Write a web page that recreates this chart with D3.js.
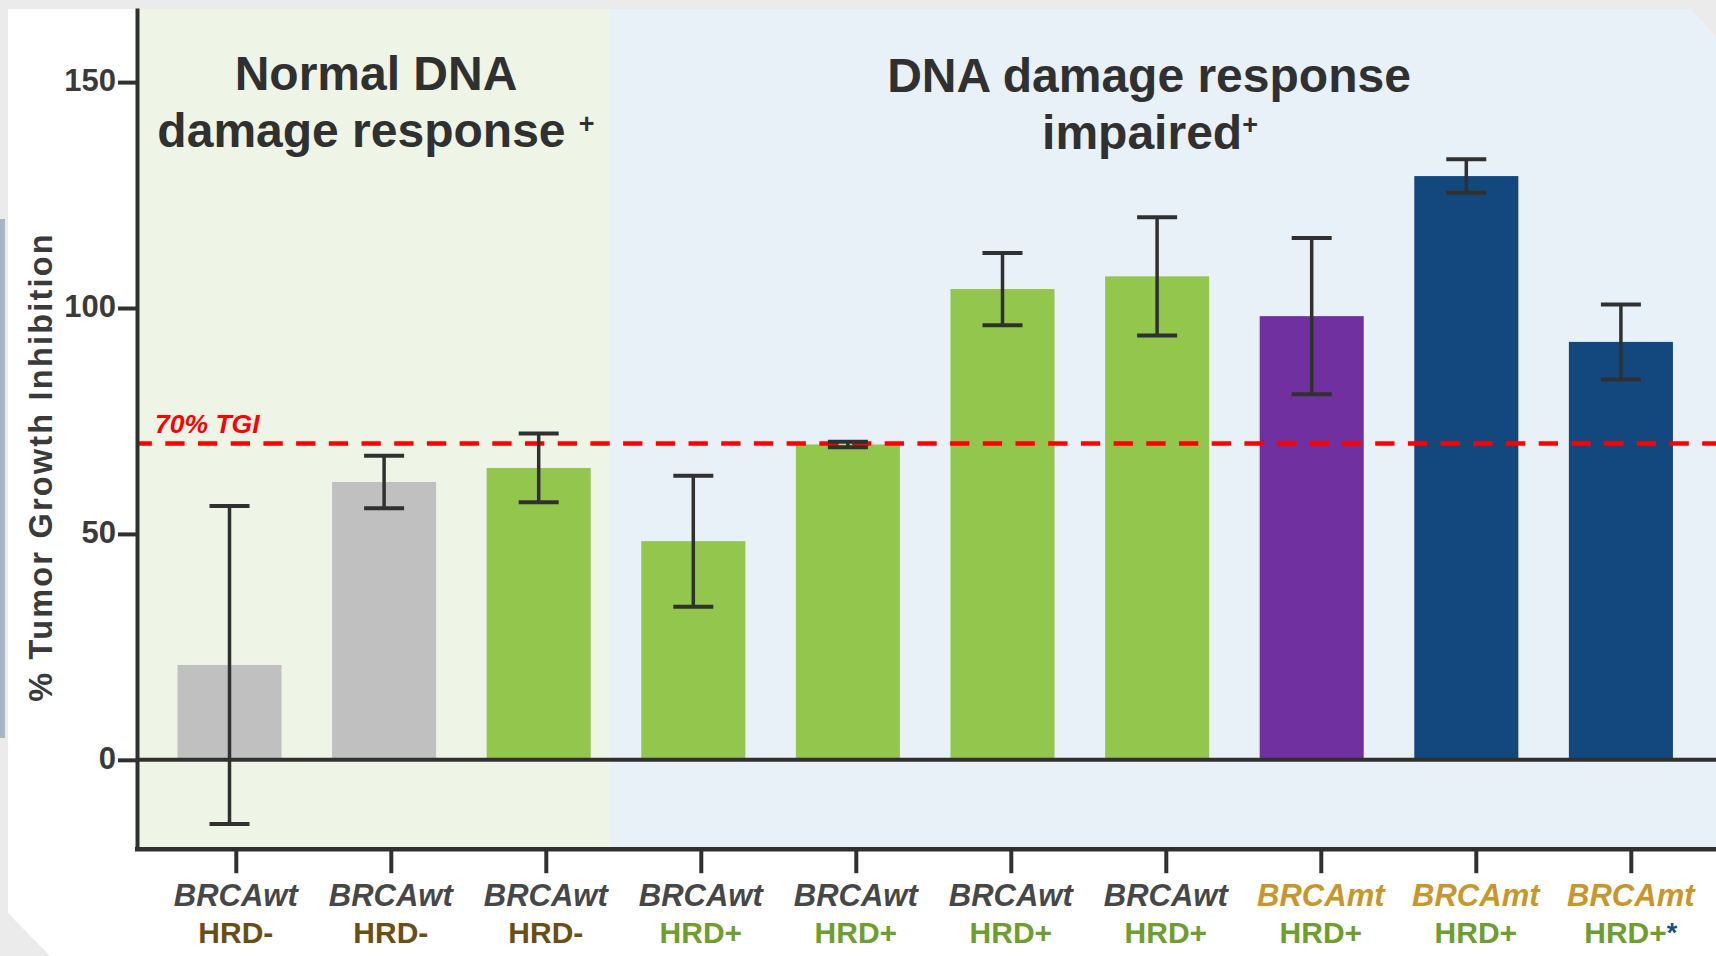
<!DOCTYPE html>
<html>
<head>
<meta charset="utf-8">
<script src="https://cdn.jsdelivr.net/npm/d3@7"></script>
<style>
  html, body { margin: 0; padding: 0; background: #ebebeb; }
  svg { display: block; }
  text { font-family: "Liberation Sans", Arial, Helvetica, sans-serif; }
</style>
</head>
<body>
<svg id="chart" width="1716" height="956"></svg>
<script>
// ---------------- data ----------------
const categories = ["c1","c2","c3","c4","c5","c6","c7","c8","c9","c10"];
const brcaLabels = ["BRCAwt","BRCAwt","BRCAwt","BRCAwt","BRCAwt","BRCAwt","BRCAwt","BRCAmt","BRCAmt","BRCAmt"];
const hrdLabels  = ["HRD-","HRD-","HRD-","HRD+","HRD+","HRD+","HRD+","HRD+","HRD+","HRD+"];
const hrdNotes   = ["","","","","","","","","","*"];
const tgiValues  = [21.0, 61.5, 64.6, 48.4, 69.8, 104.2, 107.0, 98.2, 129.2, 92.5];
const tgiErrors  = [35.2, 5.8, 7.6, 14.5, 0.6, 8.0, 13.1, 17.3, 3.7, 8.3];
const barGroups  = ["grey","grey","green","green","green","green","green","purple","navy","navy"];
const yTicks     = [0, 50, 100, 150];
const thresholdValue = 70;
const thresholdLabel = "70% TGI";
const sectionTitles = [["Normal DNA", "damage response"], ["DNA damage response", "impaired"]];
const sectionSplit = 3; // first category index of second section
const yTitle = "% Tumor Growth Inhibition";

// ---------------- styles ----------------
const barColor = { grey: "#c0c0c0", green: "#92c64c", purple: "#7030a0", navy: "#13487e" };
const brcaColor = { BRCAwt: "#474747", BRCAmt: "#c9962b" };
const hrdColor = { "HRD-": "#6a4e14", "HRD+": "#6d9e2e" };
const ink = "#303030";

const W = 1716, H = 956;
const svg = d3.select("#chart");

// page frame
const pageShape = [[8,9],[1690,9],[1716,38],[1716,956],[50,956],[8,913]];
const pagePath = "M" + pageShape.map(p => p.join(",")).join("L") + "Z";
svg.append("rect").attr("width", W).attr("height", H).attr("fill", "#ebebeb");
svg.append("defs").append("clipPath").attr("id", "page").append("path").attr("d", pagePath);
svg.append("path").attr("d", pagePath).attr("fill", "#ffffff");
svg.append("rect").attr("x", 0).attr("y", 219).attr("width", 5).attr("height", 519).attr("fill", "#a9b5c7");

// scales
const plotLeft = 137, plotTop = 8, plotRight = W, plotBottom = 850.2;
const y = d3.scaleLinear().domain([-20, 166.4]).range([plotBottom, plotTop]);
const x = d3.scaleBand().domain(categories).range([152.2, 1698.2]).paddingInner(0.327).paddingOuter(0.1635);
const xTick = d3.scalePoint().domain(categories).range([235.8, 1630.8]);

const g = svg.append("g").attr("clip-path", "url(#page)");

// section backgrounds
const splitX = (x(categories[sectionSplit - 1]) + x.bandwidth() + x(categories[sectionSplit])) / 2 - 6;
g.append("rect").attr("x", plotLeft).attr("y", plotTop).attr("width", splitX - plotLeft).attr("height", plotBottom - plotTop).attr("fill", "#eef5e6");
g.append("rect").attr("x", splitX).attr("y", plotTop).attr("width", plotRight - splitX).attr("height", plotBottom - plotTop).attr("fill", "#e8f0f8");

// section titles
const titleSize = 48;
const t1 = g.append("text").attr("text-anchor", "middle").attr("fill", ink).attr("font-weight", "bold").attr("font-size", titleSize);
t1.append("tspan").attr("x", 376).attr("y", 89.5).text(sectionTitles[0][0]);
const t1b = t1.append("tspan").attr("x", 376).attr("y", 146.7);
t1b.append("tspan").text(sectionTitles[0][1] + " ");
t1b.append("tspan").attr("font-size", 27).attr("dy", -14).text("+");

const t2 = g.append("text").attr("text-anchor", "middle").attr("fill", ink).attr("font-weight", "bold").attr("font-size", titleSize);
t2.append("tspan").attr("x", 1149).attr("y", 91.7).text(sectionTitles[1][0]);
const t2b = t2.append("tspan").attr("x", 1150).attr("y", 149.3);
t2b.append("tspan").text(sectionTitles[1][1]);
t2b.append("tspan").attr("font-size", 27).attr("dy", -15).text("+");

// bars
g.selectAll("rect.bar").data(categories).join("rect").attr("class", "bar")
  .attr("x", d => x(d)).attr("width", x.bandwidth())
  .attr("y", (d, i) => y(Math.max(0, tgiValues[i])))
  .attr("height", (d, i) => Math.abs(y(tgiValues[i]) - y(0)))
  .attr("fill", (d, i) => barColor[barGroups[i]]);

// threshold line
g.append("line").attr("x1", plotLeft).attr("x2", plotRight)
  .attr("y1", y(thresholdValue)).attr("y2", y(thresholdValue))
  .attr("stroke", "#ff0000").attr("stroke-width", 4.5)
  .attr("stroke-dasharray", "19.3,13.4").attr("stroke-dashoffset", 4.4);
g.append("text").attr("x", 155).attr("y", y(thresholdValue) - 10.8)
  .attr("fill", "#ff0000").attr("font-weight", "bold").attr("font-style", "italic")
  .attr("font-size", 26.5).text(thresholdLabel);

// error bars
const capW = 40;
const eb = g.selectAll("g.err").data(categories).join("g").attr("class", "err");
eb.append("line")
  .attr("x1", d => x(d) + x.bandwidth() / 2).attr("x2", d => x(d) + x.bandwidth() / 2)
  .attr("y1", (d, i) => y(tgiValues[i] + tgiErrors[i])).attr("y2", (d, i) => y(tgiValues[i] - tgiErrors[i]))
  .attr("stroke", ink).attr("stroke-width", 3.5);
[1, -1].forEach(s => {
  eb.append("line")
    .attr("x1", d => x(d) + x.bandwidth() / 2 - capW / 2).attr("x2", d => x(d) + x.bandwidth() / 2 + capW / 2)
    .attr("y1", (d, i) => y(tgiValues[i] + s * tgiErrors[i])).attr("y2", (d, i) => y(tgiValues[i] + s * tgiErrors[i]))
    .attr("stroke", ink).attr("stroke-width", 4);
});

// zero line
g.append("line").attr("x1", plotLeft).attr("x2", plotRight).attr("y1", y(0)).attr("y2", y(0))
  .attr("stroke", ink).attr("stroke-width", 4);

// y axis
const yAxis = svg.append("g").attr("transform", `translate(${plotLeft},0)`)
  .call(d3.axisLeft(y).tickValues(yTicks).tickSize(19).tickSizeOuter(0).tickPadding(2));
yAxis.select(".domain").attr("stroke", ink).attr("stroke-width", 4);
yAxis.selectAll(".tick line").attr("stroke", ink).attr("stroke-width", 4);
yAxis.selectAll(".tick text").attr("fill", "#3a3a3a").attr("font-size", 31).attr("font-weight", "bold")
  .attr("font-family", '"Liberation Sans", Arial, sans-serif').attr("dy", 8.6);

// x axis
svg.append("line").attr("x1", plotLeft - 2).attr("x2", plotRight).attr("y1", plotBottom - 1).attr("y2", plotBottom - 1)
  .attr("stroke", ink).attr("stroke-width", 4.5);
const xAxis = svg.append("g").attr("transform", `translate(0,${plotBottom - 1})`)
  .call(d3.axisBottom(xTick).tickSize(24).tickFormat(""));
xAxis.select(".domain").remove();
xAxis.selectAll(".tick line").attr("stroke", ink).attr("stroke-width", 4);

// x labels
const lab = svg.append("g").selectAll("g.xl").data(categories).join("g").attr("class", "xl")
  .attr("transform", d => `translate(${xTick(d)},0)`);
lab.append("text").attr("text-anchor", "middle").attr("y", 905.7)
  .attr("font-size", 31).attr("font-weight", "bold").attr("font-style", "italic")
  .attr("fill", (d, i) => brcaColor[brcaLabels[i]]).text((d, i) => brcaLabels[i]);
const hl = lab.append("text").attr("text-anchor", "middle").attr("y", 943.3)
  .attr("font-size", 30).attr("font-weight", "bold");
hl.append("tspan").attr("fill", (d, i) => hrdColor[hrdLabels[i]]).text((d, i) => hrdLabels[i]);
hl.append("tspan").attr("fill", "#1a4f80").attr("font-size", 27).attr("dy", -1)
  .text((d, i) => hrdNotes[i]);

// y title
svg.append("text").attr("transform", `translate(51.7,467) rotate(-90)`)
  .attr("text-anchor", "middle").attr("fill", "#3a3a3a").attr("font-weight", "bold")
  .attr("font-size", 32.5).attr("letter-spacing", 2.2).text(yTitle);
</script>
</body>
</html>
